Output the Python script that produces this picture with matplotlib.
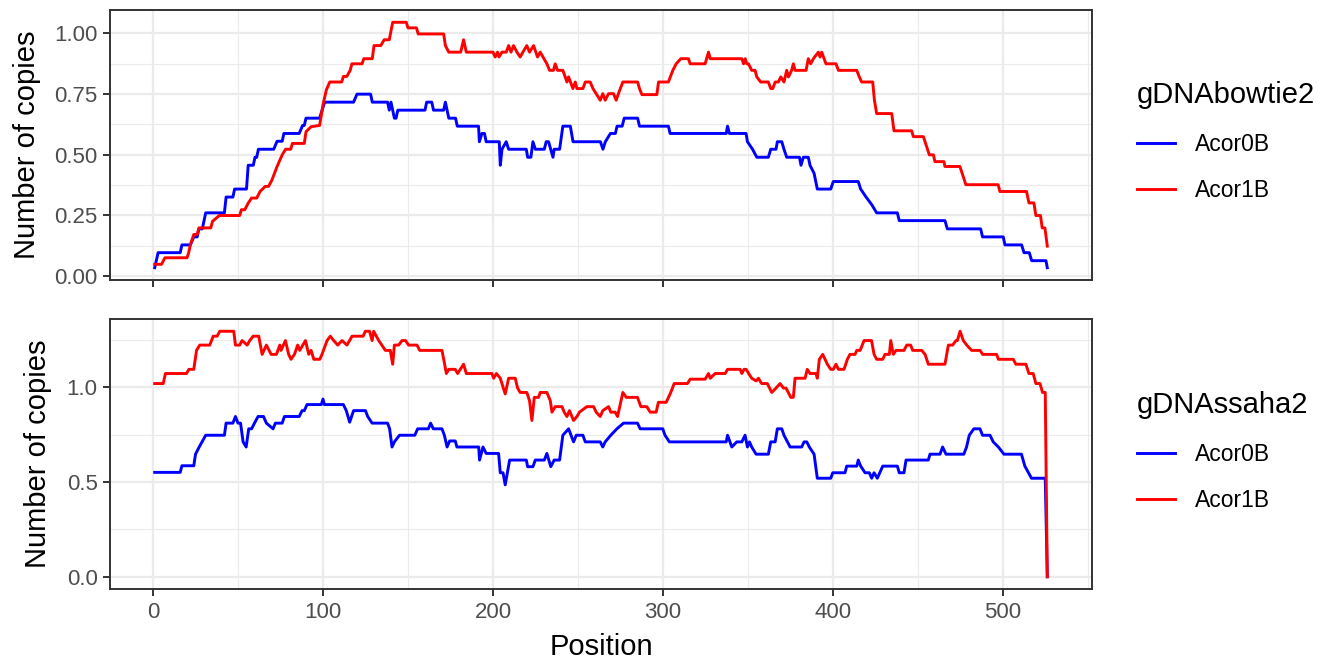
import matplotlib
matplotlib.use("Agg")
import matplotlib.pyplot as plt
from matplotlib.ticker import MultipleLocator, FormatStrFormatter

plt.rcParams['font.family'] = ['Liberation Sans', 'DejaVu Sans']

series_names = ["Acor0B", "Acor1B"]
series_colors = ["#0000FF", "#FF0000"]
panel_titles = ["gDNAbowtie2", "gDNAssaha2"]

# gDNAbowtie2 - Acor0B
bt0_pos = [1, 3, 16, 17, 22, 24, 26, 27, 29, 31,
           42, 43, 47, 48, 55, 56, 59, 60, 61, 62,
           71, 73, 76, 77, 86, 88, 89, 90, 98, 101,
           118, 120, 128, 129, 138, 139, 140, 142, 143, 144,
           160, 161, 164, 165, 171, 172, 174, 178, 179, 191.5,
           192, 193.5, 195, 196, 203.7, 204.3, 205.3, 207.8, 209.2, 219.6,
           220.4, 222.3, 223.5, 224.9, 230.2, 231.3, 232.7, 235.3, 236, 239.2,
           241.1, 245.5, 247.1, 263.2, 264.7, 266.1, 269.1, 272, 273, 276,
           277.2, 285.1, 286.2, 303.2, 304.2, 337.2, 338, 339.1, 348.9, 349.7,
           352.7, 355.2, 362, 363.4, 366.5, 367.3, 369.9, 371.2, 372.8, 380.3,
           381.2, 382.6, 385.5, 386.5, 388.9, 390.8, 398.7, 400.2, 414.9, 416.3,
           419.5, 422.8, 425.7, 437.9, 439, 465.9, 467.3, 486.9, 488, 500.2,
           501.2, 511, 512.4, 515.5, 516.9, 525.3, 526.1]
bt0_val = [0.034, 0.096, 0.096, 0.128, 0.128, 0.161, 0.161, 0.194, 0.194, 0.260,
           0.260, 0.325, 0.325, 0.358, 0.358, 0.456, 0.456, 0.489, 0.489, 0.522,
           0.522, 0.555, 0.555, 0.587, 0.587, 0.620, 0.620, 0.650, 0.650, 0.716,
           0.716, 0.749, 0.749, 0.716, 0.716, 0.683, 0.716, 0.650, 0.650, 0.683,
           0.683, 0.716, 0.716, 0.683, 0.683, 0.716, 0.650, 0.650, 0.617, 0.617,
           0.553, 0.587, 0.587, 0.553, 0.553, 0.456, 0.522, 0.553, 0.522, 0.522,
           0.489, 0.489, 0.553, 0.522, 0.522, 0.553, 0.553, 0.489, 0.522, 0.522,
           0.617, 0.617, 0.553, 0.553, 0.522, 0.553, 0.587, 0.587, 0.617, 0.617,
           0.650, 0.650, 0.617, 0.617, 0.587, 0.587, 0.617, 0.587, 0.587, 0.553,
           0.522, 0.489, 0.489, 0.522, 0.522, 0.553, 0.553, 0.522, 0.489, 0.489,
           0.456, 0.489, 0.489, 0.456, 0.423, 0.358, 0.358, 0.389, 0.389, 0.358,
           0.325, 0.294, 0.260, 0.260, 0.228, 0.228, 0.194, 0.194, 0.161, 0.161,
           0.128, 0.128, 0.096, 0.096, 0.063, 0.063, 0.034]

# gDNAbowtie2 - Acor1B
bt1_pos = [1, 5, 7, 20, 21, 22, 24, 26, 27, 34,
           35, 39, 51, 52, 54, 56, 58, 61, 63, 66,
           68, 70, 73, 76, 78, 81, 82, 89, 90, 93,
           98, 100, 102, 104, 111, 112, 114, 116, 117, 123,
           124, 129, 130, 134, 136, 139, 141, 149, 150, 155,
           156, 171, 172, 174, 181, 182.7, 184.3, 200, 201.3, 202.7,
           203.5, 205.3, 207.8, 209.2, 210.6, 212.1, 214.1, 216, 217.6, 219.9,
           221.5, 223.9, 226.2, 227.8, 229.4, 231.7, 233.3, 235.6, 236.6, 238,
           241.1, 242.5, 243.5, 244.5, 247, 248.4, 249.4, 252.9, 254.3, 257.2,
           258.8, 260.7, 263.1, 264.6, 266, 268, 270.9, 272.5, 273.8, 276.4,
           285.1, 286.2, 287.6, 296.4, 297.4, 303.2, 305.8, 307.8, 310.5, 315,
           316, 324.8, 326.8, 327.8, 346.4, 347.4, 348.4, 349.3, 350.3, 352.2,
           354.2, 355.2, 357.5, 362, 363.4, 364.6, 366, 367.9, 369.3, 371.2,
           372.8, 373.8, 375.7, 376.7, 377.7, 384.2, 385.5, 386.9, 388.5, 391.4,
           392.4, 393.4, 395.9, 401.8, 403.2, 414, 415.5, 416.9, 423.4, 424.4,
           425.7, 434.6, 435.9, 446.3, 447.3, 453.2, 455.1, 456.7, 459.1, 460,
           465.3, 465.9, 474.7, 478.2, 497.2, 498.2, 513.9, 515.3, 518.2, 519.4,
           522.1, 523.1, 524.7, 526.1]
bt1_val = [0.048, 0.048, 0.075, 0.075, 0.096, 0.130, 0.171, 0.171, 0.198, 0.198,
           0.225, 0.249, 0.249, 0.273, 0.273, 0.300, 0.321, 0.321, 0.348, 0.369,
           0.369, 0.396, 0.451, 0.499, 0.522, 0.522, 0.546, 0.546, 0.594, 0.615,
           0.620, 0.705, 0.767, 0.799, 0.799, 0.822, 0.822, 0.847, 0.874, 0.874,
           0.895, 0.895, 0.949, 0.949, 0.973, 0.973, 1.045, 1.045, 1.022, 1.022,
           0.997, 0.997, 0.949, 0.922, 0.922, 0.973, 0.922, 0.922, 0.902, 0.922,
           0.902, 0.922, 0.922, 0.949, 0.922, 0.949, 0.922, 0.902, 0.922, 0.949,
           0.922, 0.949, 0.902, 0.922, 0.902, 0.874, 0.847, 0.847, 0.874, 0.847,
           0.847, 0.820, 0.799, 0.820, 0.772, 0.799, 0.772, 0.772, 0.799, 0.799,
           0.772, 0.751, 0.724, 0.751, 0.724, 0.751, 0.751, 0.724, 0.751, 0.799,
           0.799, 0.772, 0.747, 0.747, 0.799, 0.799, 0.847, 0.874, 0.895, 0.895,
           0.874, 0.874, 0.922, 0.895, 0.895, 0.874, 0.895, 0.874, 0.874, 0.847,
           0.847, 0.820, 0.799, 0.799, 0.772, 0.772, 0.799, 0.799, 0.820, 0.799,
           0.847, 0.820, 0.847, 0.874, 0.847, 0.847, 0.895, 0.874, 0.895, 0.922,
           0.902, 0.922, 0.874, 0.874, 0.847, 0.847, 0.820, 0.799, 0.799, 0.724,
           0.669, 0.669, 0.598, 0.598, 0.574, 0.574, 0.533, 0.499, 0.499, 0.471,
           0.471, 0.451, 0.451, 0.376, 0.376, 0.348, 0.348, 0.301, 0.301, 0.249,
           0.249, 0.198, 0.198, 0.123]

# gDNAssaha2 - Acor0B
ss0_pos = [1, 16, 17, 24, 25, 27, 31, 42, 43, 47,
           48.5, 50, 51.5, 53, 54.8, 56.3, 58, 59.7, 61.8, 65,
           66.7, 70.6, 72, 76, 77.3, 86, 87.7, 89, 90.6, 99,
           100, 100.8, 112, 113.7, 115.7, 118, 125, 126.3, 128.9, 138,
           139.2, 140.6, 142, 145, 154, 155.7, 162, 163.3, 164.9, 170,
           171.4, 173, 174.5, 177.8, 178.8, 191.6, 192.1, 194.1, 196, 203.3,
           204.3, 205.9, 207.2, 209.8, 219.6, 220.4, 223.5, 224.9, 230.2, 231.7,
           234, 236, 239.2, 241.1, 244.5, 247.4, 249, 252.9, 254.3, 263.1,
           264.6, 266, 269.3, 272.9, 276.8, 285, 286.6, 299.9, 301.2, 303.8,
           337.2, 338, 340.5, 343.4, 346.4, 348.3, 349.7, 350.9, 352.2, 354.8,
           362, 363.4, 366, 367.3, 369.9, 371.2, 373.2, 374.8, 381.6, 383,
           384.6, 386.1, 388.9, 390.8, 398.7, 399.9, 407.1, 408.1, 414, 414.9,
           416.3, 418.9, 421.4, 422.8, 424.2, 426.1, 429.3, 437.9, 439, 441.8,
           443, 456.1, 457.1, 463, 464.5, 466.5, 477, 478.6, 480.2, 482.9,
           486.5, 488, 492.4, 494.3, 497.3, 500.6, 510.9, 512.9, 516.8, 524.9,
           526.1]
ss0_val = [0.551, 0.551, 0.586, 0.586, 0.647, 0.682, 0.747, 0.747, 0.811, 0.811,
           0.846, 0.811, 0.811, 0.712, 0.685, 0.781, 0.781, 0.811, 0.846, 0.846,
           0.811, 0.781, 0.811, 0.811, 0.846, 0.846, 0.877, 0.877, 0.909, 0.909,
           0.938, 0.909, 0.909, 0.877, 0.816, 0.877, 0.877, 0.846, 0.811, 0.811,
           0.781, 0.685, 0.712, 0.747, 0.747, 0.781, 0.781, 0.811, 0.781, 0.781,
           0.747, 0.685, 0.717, 0.717, 0.685, 0.685, 0.616, 0.685, 0.651, 0.651,
           0.549, 0.549, 0.485, 0.616, 0.616, 0.581, 0.581, 0.616, 0.616, 0.651,
           0.581, 0.616, 0.616, 0.747, 0.781, 0.712, 0.747, 0.747, 0.712, 0.712,
           0.685, 0.712, 0.747, 0.781, 0.811, 0.811, 0.781, 0.781, 0.747, 0.712,
           0.712, 0.747, 0.685, 0.712, 0.712, 0.747, 0.685, 0.712, 0.685, 0.647,
           0.647, 0.712, 0.712, 0.781, 0.781, 0.747, 0.712, 0.685, 0.685, 0.712,
           0.712, 0.685, 0.647, 0.520, 0.520, 0.549, 0.549, 0.584, 0.584, 0.616,
           0.584, 0.549, 0.549, 0.520, 0.549, 0.520, 0.584, 0.584, 0.549, 0.549,
           0.616, 0.616, 0.647, 0.647, 0.685, 0.647, 0.647, 0.685, 0.747, 0.781,
           0.781, 0.747, 0.747, 0.712, 0.685, 0.647, 0.647, 0.584, 0.520, 0.520,
           0.0]

# gDNAssaha2 - Acor1B
ss1_pos = [1, 6, 7.3, 19.7, 21.1, 24, 25.6, 27.5, 33.4, 35.4,
           37.7, 39.3, 47.5, 48.5, 51, 52.4, 55.4, 56.9, 58.9, 62.2,
           64.2, 66.7, 69.5, 72.6, 74.6, 75.3, 77.9, 79.8, 81.2, 83.2,
           85.1, 86.3, 89.7, 91.6, 93, 94.6, 98.1, 99.4, 102.4, 104.3,
           106.3, 108.7, 111.2, 114.1, 117.1, 123.6, 124.9, 127.4, 128.9, 129.8,
           132.8, 136.7, 139.6, 141, 142, 144.5, 146.5, 148.5, 150.4, 155.3,
           156.9, 170, 172.6, 174, 177.8, 179.2, 182.7, 184.3, 199.4, 200.4,
           202, 204.3, 207.2, 209.2, 213.1, 214.5, 216, 219.9, 221.5, 222.9,
           224.3, 226.8, 227.8, 231.7, 233.7, 234.7, 236.6, 240.6, 241.9, 243.5,
           245, 247.4, 249.4, 250.9, 255.2, 259.2, 260.7, 263.1, 264.6, 268,
           269.3, 271.9, 273.3, 276.4, 278.4, 285, 287, 290.5, 292.5, 296,
           297.3, 301.9, 304.6, 306.6, 314.4, 316, 324.8, 326.8, 327.8, 330.7,
           336.6, 338, 345.4, 346.4, 347.7, 348.9, 352.2, 354.8, 356.2, 357.5,
           358.1, 361.4, 364, 366.5, 368.9, 370.9, 372.4, 375.2, 376.7, 377.7,
           383.6, 384.9, 386.5, 390, 390.8, 392, 394, 396.7, 398.7, 400.2,
           401.8, 403.2, 406.5, 408.5, 410, 413, 414, 416, 418.3, 422.7,
           424.2, 425.7, 429.3, 430.6, 433.2, 434, 435.5, 437.1, 441.8, 443.4,
           445.7, 446.9, 452.2, 454.2, 456.1, 465.9, 467.9, 470.4, 472.4, 473.2,
           474.8, 476.7, 478.7, 481.6, 486.5, 488.1, 496.3, 497.3, 506.1, 507.6,
           513.5, 515.3, 517.8, 519.4, 521.8, 523.3, 524.9, 526.1]
ss1_val = [1.020, 1.020, 1.073, 1.073, 1.095, 1.095, 1.195, 1.223, 1.223, 1.270,
           1.270, 1.296, 1.296, 1.223, 1.223, 1.247, 1.223, 1.247, 1.270, 1.270,
           1.174, 1.223, 1.174, 1.174, 1.223, 1.195, 1.247, 1.174, 1.148, 1.174,
           1.223, 1.195, 1.247, 1.174, 1.195, 1.148, 1.148, 1.174, 1.247, 1.270,
           1.247, 1.223, 1.247, 1.223, 1.270, 1.270, 1.296, 1.296, 1.247, 1.296,
           1.247, 1.195, 1.195, 1.122, 1.223, 1.223, 1.247, 1.247, 1.223, 1.223,
           1.195, 1.195, 1.073, 1.095, 1.095, 1.073, 1.122, 1.073, 1.073, 1.048,
           1.073, 1.048, 0.965, 1.048, 1.048, 0.996, 0.973, 0.973, 0.930, 0.825,
           0.947, 0.947, 0.973, 0.973, 0.930, 0.869, 0.898, 0.898, 0.869, 0.846,
           0.877, 0.825, 0.846, 0.869, 0.898, 0.898, 0.869, 0.846, 0.877, 0.898,
           0.869, 0.869, 0.846, 0.973, 0.947, 0.947, 0.898, 0.898, 0.869, 0.869,
           0.921, 0.921, 0.973, 1.020, 1.020, 1.043, 1.043, 1.073, 1.048, 1.073,
           1.073, 1.095, 1.095, 1.073, 1.095, 1.095, 1.048, 1.034, 1.048, 1.027,
           1.020, 1.020, 0.973, 0.996, 1.020, 0.996, 0.996, 0.947, 0.947, 1.048,
           1.048, 1.095, 1.073, 1.073, 1.048, 1.148, 1.174, 1.122, 1.095, 1.095,
           1.122, 1.095, 1.095, 1.148, 1.174, 1.174, 1.195, 1.195, 1.247, 1.247,
           1.174, 1.148, 1.148, 1.174, 1.174, 1.247, 1.174, 1.195, 1.195, 1.223,
           1.223, 1.195, 1.195, 1.174, 1.122, 1.122, 1.223, 1.223, 1.247, 1.247,
           1.296, 1.247, 1.223, 1.195, 1.195, 1.174, 1.174, 1.148, 1.148, 1.122,
           1.122, 1.073, 1.073, 1.020, 1.020, 0.973, 0.973, 0.0]

x_ticks = [0, 100, 200, 300, 400, 500]

W, H = 1317, 661
fig = plt.figure(figsize=(W / 100, H / 100), dpi=100)

ax_top = fig.add_axes([110 / W, (H - 280) / H, 982 / W, 270 / H])
ax_bot = fig.add_axes([110 / W, (H - 589) / H, 982 / W, 270 / H])

panels = [
    (ax_top, [(bt0_pos, bt0_val), (bt1_pos, bt1_val)], panel_titles[0], 81),
    (ax_bot, [(ss0_pos, ss0_val), (ss1_pos, ss1_val)], panel_titles[1], 391),
]

for ax, data, title, leg_top in panels:
    for (pos, val), name, col in zip(data, series_names, series_colors):
        ax.plot(pos, val, color=col, lw=2.1, label=name, solid_joinstyle="round")
    ax.set_xlim(-25.3, 552.4)
    ax.set_xticks(x_ticks)
    ax.xaxis.set_minor_locator(MultipleLocator(50))
    ax.grid(which="major", color="#EBEBEB", lw=1.6)
    ax.grid(which="minor", color="#EBEBEB", lw=0.8)
    ax.set_axisbelow(True)
    for sp in ax.spines.values():
        sp.set_color("#333333")
        sp.set_linewidth(1.4)
    ax.tick_params(which="major", length=5, width=1.4, color="#333333",
                   labelsize=16, labelcolor="#4D4D4D", pad=4)
    ax.tick_params(which="minor", length=0)
    ax.set_ylabel("Number of copies", fontsize=21, va="center")
    ax.legend(title=title, loc="upper left", frameon=False,
              bbox_to_anchor=(1137 / W, 1 - leg_top / H),
              bbox_transform=fig.transFigure,
              fontsize=16.5, title_fontsize=21, alignment="left",
              handlelength=1.65, handletextpad=0.9, labelspacing=1.03,
              borderpad=0, borderaxespad=0)

ax_top.set_ylim(-0.0166, 1.0956)
ax_top.yaxis.set_major_locator(MultipleLocator(0.25))
ax_top.yaxis.set_minor_locator(MultipleLocator(0.125))
ax_top.yaxis.set_major_formatter(FormatStrFormatter("%.2f"))
ax_top.tick_params(axis="x", labelbottom=False)
ax_top.yaxis.set_label_coords((27 - 110) / 982, 0.5)

ax_bot.set_ylim(-0.0648, 1.3608)
ax_bot.yaxis.set_major_locator(MultipleLocator(0.5))
ax_bot.yaxis.set_minor_locator(MultipleLocator(0.25))
ax_bot.yaxis.set_major_formatter(FormatStrFormatter("%.1f"))
ax_bot.yaxis.set_label_coords((38 - 110) / 982, 0.5)
ax_bot.set_xlabel("Position", fontsize=21, va="center")
ax_bot.xaxis.set_label_coords(0.5, (589 - 647) / 270)

fig.savefig("out.png", dpi=100)
